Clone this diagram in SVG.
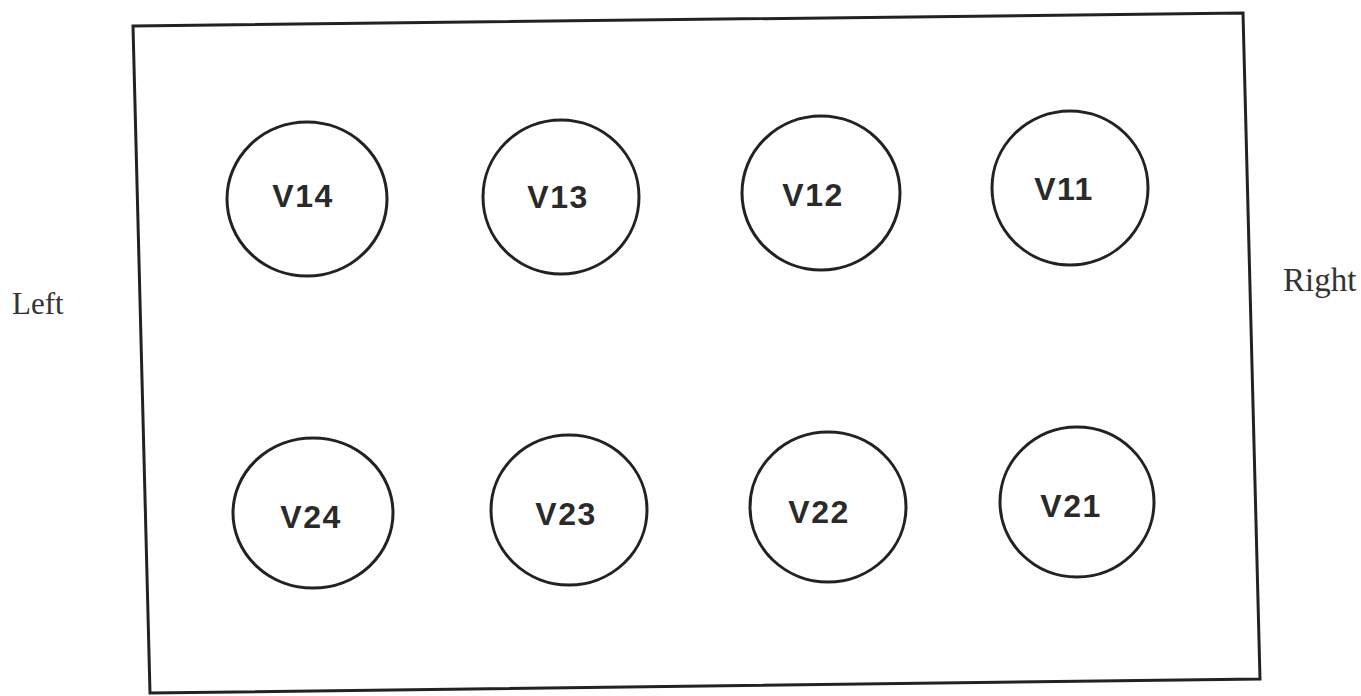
<svg xmlns="http://www.w3.org/2000/svg" width="1361" height="696" viewBox="0 0 1361 696">
<style>
.frame{fill:none;stroke:#222;stroke-width:3}
.node ellipse{fill:none;stroke:#222;stroke-width:3}
.node text{font-family:"Liberation Sans",Arial,sans-serif;font-weight:bold;font-size:32px;fill:#2a2a2a;text-anchor:middle;letter-spacing:1.5px}
.side{font-family:"Liberation Serif","Times New Roman",serif;fill:#333}
</style>
<rect width="1361" height="696" fill="#ffffff"/>
<polygon class="frame" points="133,26 1243,13 1260,679 150,693"/>
<text class="side" x="12" y="314" font-size="31">Left</text>
<text class="side" x="1283" y="291" font-size="33">Right</text>
<g id="connectors"></g>
<g id="V14" class="node"><ellipse cx="307" cy="199" rx="80" ry="77"/><text x="303" y="207">V14</text></g>
<g id="V13" class="node"><ellipse cx="561" cy="197" rx="78" ry="77"/><text x="558" y="208">V13</text></g>
<g id="V12" class="node"><ellipse cx="821" cy="193" rx="79" ry="77"/><text x="813" y="206">V12</text></g>
<g id="V11" class="node"><ellipse cx="1070" cy="188" rx="78" ry="77"/><text x="1064" y="200">V11</text></g>
<g id="V24" class="node"><ellipse cx="313" cy="513" rx="80" ry="75"/><text x="311" y="528">V24</text></g>
<g id="V23" class="node"><ellipse cx="569" cy="510" rx="78" ry="75"/><text x="566" y="525">V23</text></g>
<g id="V22" class="node"><ellipse cx="828" cy="507" rx="78" ry="75"/><text x="819" y="523">V22</text></g>
<g id="V21" class="node"><ellipse cx="1077" cy="502" rx="77" ry="75"/><text x="1071" y="517">V21</text></g>
</svg>
